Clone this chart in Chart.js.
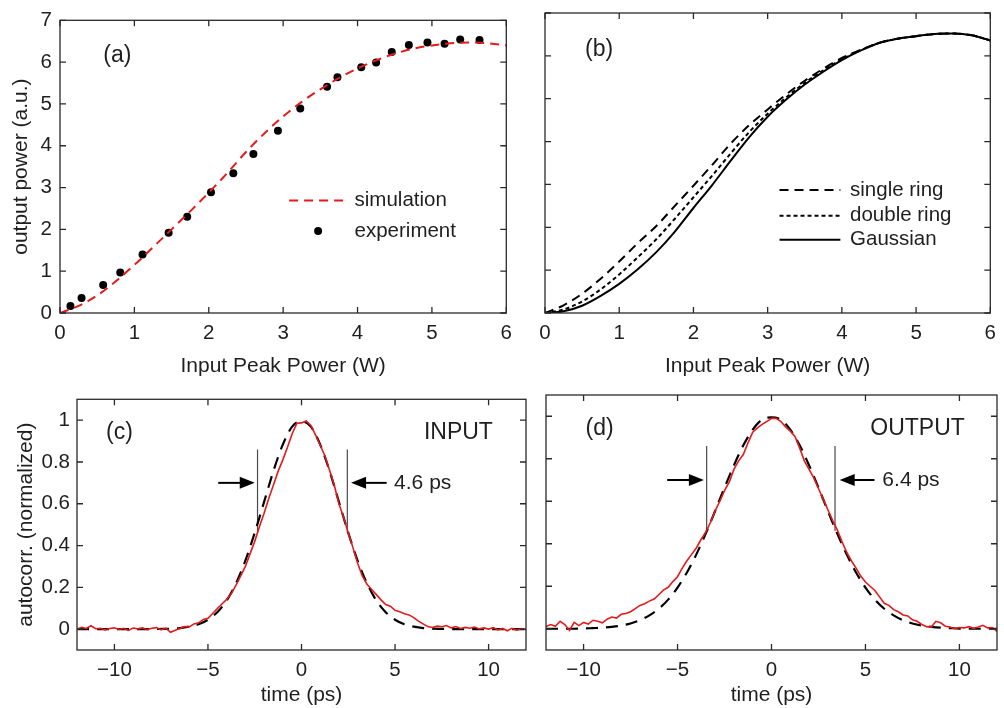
<!DOCTYPE html>
<html>
<head>
<meta charset="utf-8">
<script src="https://cdn.jsdelivr.net/npm/chart.js@4.4.1/dist/chart.umd.min.js"></script>
<style>
  html, body { margin: 0; padding: 0; background: #fff; }
  #wrap { position: relative; width: 1004px; height: 708px; overflow: hidden; }
  canvas { position: absolute; }
</style>
</head>
<body>
<div id="wrap">
  <canvas id="panel-a" width="520" height="380" style="left:0px;top:0px"></canvas>
  <canvas id="panel-b" width="484" height="380" style="left:520px;top:0px"></canvas>
  <canvas id="panel-c" width="540" height="328" style="left:0px;top:380px"></canvas>
  <canvas id="panel-d" width="464" height="328" style="left:540px;top:380px"></canvas>
</div>
<script>
// ---- data ----

// (a) output vs input peak power
var simX = [0, 0.25, 0.5, 0.75, 1, 1.25, 1.5, 1.75, 2, 2.25, 2.5, 2.75, 3,
  3.25, 3.5, 3.75, 4, 4.25, 4.5, 4.75, 5, 5.25, 5.5, 5.75, 6];
var simY = [0, 0.17, 0.42, 0.76, 1.15, 1.57, 2.0, 2.43, 2.88, 3.35, 3.85, 4.30, 4.70,
  5.05, 5.35, 5.62, 5.85, 6.04, 6.20, 6.32, 6.40, 6.45, 6.47, 6.45, 6.40];
var expX = [0.14, 0.29, 0.58, 0.81, 1.11, 1.46, 1.71, 2.03, 2.33, 2.60, 2.93,
  3.23, 3.59, 3.73, 4.05, 4.25, 4.46, 4.69, 4.94, 5.17, 5.38, 5.64];
var expY = [0.17, 0.36, 0.67, 0.97, 1.40, 1.92, 2.30, 2.89, 3.34, 3.80, 4.36,
  4.89, 5.41, 5.64, 5.88, 5.99, 6.24, 6.41, 6.47, 6.44, 6.54, 6.53];

// (b) beam shapes
var beamX = simX;
var singleRing = [0, 0.18, 0.45, 0.80, 1.20, 1.63, 2.03, 2.50, 2.97, 3.45, 3.95, 4.38, 4.75,
  5.10, 5.42, 5.70, 5.95, 6.14, 6.30, 6.40, 6.46, 6.51, 6.52, 6.48, 6.36];
var doubleRing = [0, 0.08, 0.27, 0.55, 0.90, 1.30, 1.72, 2.20, 2.70, 3.20, 3.72, 4.22, 4.65,
  5.03, 5.37, 5.66, 5.92, 6.13, 6.30, 6.40, 6.46, 6.51, 6.52, 6.48, 6.36];
var gaussianBeam = [0, 0.04, 0.17, 0.40, 0.68, 1.02, 1.42, 1.90, 2.45, 2.98, 3.55, 4.10, 4.58,
  4.98, 5.33, 5.63, 5.90, 6.12, 6.30, 6.40, 6.46, 6.51, 6.52, 6.48, 6.36];

// (c), (d) autocorrelation traces
var timeX = [-12, -11.75, -11.5, -11.25, -11, -10.75, -10.5, -10.25, -10, -9.75, -9.5, -9.25,
  -9, -8.75, -8.5, -8.25, -8, -7.75, -7.5, -7.25, -7, -6.75, -6.5, -6.25,
  -6, -5.75, -5.5, -5.25, -5, -4.75, -4.5, -4.25, -4, -3.75, -3.5, -3.25,
  -3, -2.75, -2.5, -2.25, -2, -1.75, -1.5, -1.25, -1, -0.75, -0.5, -0.25,
  0, 0.25, 0.5, 0.75, 1, 1.25, 1.5, 1.75, 2, 2.25, 2.5, 2.75,
  3, 3.25, 3.5, 3.75, 4, 4.25, 4.5, 4.75, 5, 5.25, 5.5, 5.75,
  6, 6.25, 6.5, 6.75, 7, 7.25, 7.5, 7.75, 8, 8.25, 8.5, 8.75,
  9, 9.25, 9.5, 9.75, 10, 10.25, 10.5, 10.75, 11, 11.25, 11.5, 11.75, 12];
var inputTrace = [0.000, 0.008, 0.003, 0.016, 0.002, 0.004, -0.004, 0.003, 0.006, -0.002, 0.004, -0.006,
  0.005, 0.001, 0.006, -0.003, 0.004, 0.007, -0.004, 0.005, -0.015, -0.005, 0.003, 0.012,
  0.010, 0.025, 0.030, 0.046, 0.052, 0.075, 0.098, 0.120, 0.142, 0.170, 0.210, 0.255,
  0.300, 0.360, 0.420, 0.490, 0.555, 0.625, 0.690, 0.755, 0.810, 0.870, 0.935, 0.985,
  0.987, 0.996, 0.975, 0.930, 0.880, 0.830, 0.760, 0.690, 0.600, 0.535, 0.460, 0.390,
  0.315, 0.255, 0.215, 0.190, 0.165, 0.140, 0.118, 0.110, 0.090, 0.083, 0.074, 0.068,
  0.055, 0.038, 0.025, 0.012, 0.008, 0.014, 0.011, 0.017, 0.006, 0.012, 0.003, 0.008,
  0.004, 0.010, 0.001, 0.006, 0.000, 0.007, -0.004, 0.003, -0.008, 0.004, -0.005, 0.002, -0.003];
var outputTrace = [0.010, 0.020, 0.012, 0.035, 0.020, -0.008, 0.030, 0.015, 0.030, 0.022, 0.040, 0.035,
  0.028, 0.045, 0.055, 0.050, 0.068, 0.072, 0.080, 0.095, 0.110, 0.118, 0.130, 0.140,
  0.160, 0.182, 0.195, 0.222, 0.245, 0.285, 0.320, 0.350, 0.380, 0.420, 0.455, 0.500,
  0.555, 0.600, 0.650, 0.690, 0.750, 0.790, 0.820, 0.875, 0.925, 0.945, 0.962, 0.975,
  0.990, 0.990, 0.975, 0.950, 0.930, 0.905, 0.850, 0.790, 0.750, 0.710, 0.660, 0.610,
  0.560, 0.510, 0.465, 0.410, 0.360, 0.320, 0.285, 0.248, 0.220, 0.200, 0.180, 0.150,
  0.120, 0.110, 0.090, 0.080, 0.065, 0.060, 0.042, 0.035, 0.020, 0.010, 0.008, 0.035,
  0.028, 0.012, 0.008, 0.000, 0.006, 0.004, 0.010, 0.002, 0.008, 0.016, 0.004, 0.006, -0.012];

var fitX = [-12, -11.5, -11, -10.5, -10, -9.5, -9, -8.5, -8, -7.5, -7, -6.5,
  -6, -5.5, -5, -4.5, -4, -3.5, -3, -2.5, -2, -1.5, -1, -0.5,
  0, 0.5, 1, 1.5, 2, 2.5, 3, 3.5, 4, 4.5, 5, 5.5,
  6, 6.5, 7, 7.5, 8, 8.5, 9, 9.5, 10, 10.5, 11, 11.5, 12];
var inputFit = [0, 0, 0, 0, 0, 0, 0, 0, 0, 0.001, 0.002, 0.005,
  0.012, 0.023, 0.045, 0.081, 0.137, 0.219, 0.328, 0.461, 0.609, 0.757, 0.883, 0.969,
  0.995, 0.969, 0.883, 0.757, 0.609, 0.461, 0.328, 0.219, 0.137, 0.081, 0.045, 0.023,
  0.012, 0.005, 0.002, 0.001, 0, 0, 0, 0, 0, 0, 0, 0, 0];
var outputFit = [0, 0, 0, 0, 0.001, 0.003, 0.005, 0.009, 0.015, 0.025, 0.040, 0.063,
  0.094, 0.137, 0.194, 0.265, 0.350, 0.448, 0.554, 0.664, 0.769, 0.863, 0.937, 0.984,
  0.995, 0.984, 0.937, 0.863, 0.769, 0.664, 0.554, 0.448, 0.350, 0.265, 0.194, 0.137,
  0.094, 0.063, 0.040, 0.025, 0.015, 0.009, 0.005, 0.003, 0.001, 0, 0, 0, 0];

// half-maximum markers (ps)
var inputMarks = [-2.35, 2.45];
var outputMarks = [-3.45, 3.38];

// tick values
var powerTicks = [0, 1, 2, 3, 4, 5, 6];
var outTicks = [0, 1, 2, 3, 4, 5, 6, 7];
var timeTicks = [-10, -5, 0, 5, 10];
var corrTicks = [0, 0.2, 0.4, 0.6, 0.8, 1];

// ---- drawing ----
var INK = "#1f1f1f";
var RED = "#e41a1c";
var FONT = '"Liberation Sans", Arial, Helvetica, sans-serif';

function pairs(xs, ys) {
  return xs.map(function (x, i) { return { x: x, y: ys[i] }; });
}

function tickText(v) {
  return v < 0 ? "\u2212" + Math.abs(v) : String(v);
}

// box round the plot with inward ticks on all four sides
var framePlugin = {
  id: "frame",
  afterDraw: function (chart) {
    var a = chart.chartArea, ctx = chart.ctx;
    var xs = chart.scales.x, ys = chart.scales.y;
    ctx.save();
    ctx.strokeStyle = "#2a2a2a";
    ctx.lineWidth = 1.3;
    ctx.strokeRect(a.left, a.top, a.right - a.left, a.bottom - a.top);
    ctx.beginPath();
    xs.ticks.forEach(function (t) {
      var p = xs.getPixelForValue(t.value);
      ctx.moveTo(p, a.bottom); ctx.lineTo(p, a.bottom - 6);
      ctx.moveTo(p, a.top); ctx.lineTo(p, a.top + 6);
    });
    ys.ticks.forEach(function (t) {
      var p = ys.getPixelForValue(t.value);
      ctx.moveTo(a.left, p); ctx.lineTo(a.left + 6, p);
      ctx.moveTo(a.right, p); ctx.lineTo(a.right - 6, p);
    });
    ctx.stroke();
    ctx.restore();
  }
};

// panel letters, in-plot legends, arrows
var decorPlugin = {
  id: "decor",
  afterDatasetsDraw: function (chart, args, opts) {
    var xs = chart.scales.x, ys = chart.scales.y, ctx = chart.ctx;
    function px(v) { return xs.getPixelForValue(v); }
    function py(v) { return ys.getPixelForValue(v); }
    ctx.save();
    (opts.keys || []).forEach(function (k) {
      var y = py(k.y);
      if (k.dot) {
        ctx.fillStyle = k.color;
        ctx.beginPath();
        ctx.arc(px(k.dot), y, 4, 0, Math.PI * 2);
        ctx.fill();
      } else {
        ctx.strokeStyle = k.color;
        ctx.lineWidth = k.width;
        ctx.setLineDash(k.dash);
        ctx.beginPath();
        ctx.moveTo(px(k.x0), y);
        ctx.lineTo(px(k.x1), y);
        ctx.stroke();
        ctx.setLineDash([]);
      }
      ctx.fillStyle = INK;
      ctx.font = "20.5px " + FONT;
      ctx.textAlign = "left";
      ctx.textBaseline = "middle";
      ctx.fillText(k.text, px(k.tx), y);
    });
    (opts.arrows || []).forEach(function (ar) {
      var x0 = px(ar.from), x1 = px(ar.to), y = py(ar.y);
      var dir = x1 > x0 ? 1 : -1;
      ctx.strokeStyle = "#000";
      ctx.fillStyle = "#000";
      ctx.lineWidth = 2;
      ctx.beginPath();
      ctx.moveTo(x0, y);
      ctx.lineTo(x1 - dir * 12, y);
      ctx.stroke();
      ctx.beginPath();
      ctx.moveTo(x1, y);
      ctx.lineTo(x1 - dir * 15, y - 6);
      ctx.lineTo(x1 - dir * 15, y + 6);
      ctx.closePath();
      ctx.fill();
    });
    (opts.texts || []).forEach(function (t) {
      ctx.fillStyle = INK;
      ctx.font = t.size + "px " + FONT;
      ctx.textAlign = t.align || "left";
      ctx.textBaseline = "middle";
      ctx.fillText(t.text, px(t.x), py(t.y));
    });
    ctx.restore();
  }
};

function axis(min, max, tickList, o) {
  var horizontal = o.horizontal;
  return {
    type: "linear",
    min: min,
    max: max,
    grid: { display: false, drawTicks: false },
    border: { display: false },
    afterBuildTicks: function (scale) {
      scale.ticks = tickList.map(function (v) { return { value: v }; });
    },
    afterFit: function (scale) {
      if (horizontal) scale.height = o.size; else scale.width = o.size;
    },
    ticks: {
      display: o.labels !== false,
      color: INK,
      padding: o.pad,
      maxRotation: 0,
      autoSkip: false,
      font: { family: FONT, size: 20.5 },
      callback: tickText
    },
    title: {
      display: !!o.title,
      text: o.title || "",
      color: INK,
      font: { family: FONT, size: 21 },
      padding: o.titlePad || 0
    }
  };
}

function makeChart(id, datasets, xScale, yScale, padding, decor) {
  return new Chart(document.getElementById(id), {
    type: "scatter",
    data: { datasets: datasets },
    options: {
      responsive: false,
      animation: false,
      events: [],
      layout: { autoPadding: false, padding: padding },
      plugins: { legend: { display: false }, tooltip: { enabled: false }, decor: decor },
      scales: { x: xScale, y: yScale }
    },
    plugins: [framePlugin, decorPlugin]
  });
}

function smoothLine(xs, ys, color, width, dash) {
  return {
    data: pairs(xs, ys),
    showLine: true,
    borderColor: color,
    borderWidth: width,
    borderDash: dash,
    pointRadius: 0,
    cubicInterpolationMode: "monotone"
  };
}

function traceLine(xs, ys) {
  return {
    data: pairs(xs, ys),
    showLine: true,
    borderColor: RED,
    borderWidth: 1.6,
    pointRadius: 0,
    tension: 0
  };
}

function markLine(x) {
  return {
    data: [{ x: x, y: 0.86 }, { x: x, y: 0.46 }],
    showLine: true,
    borderColor: "#4a4a4a",
    borderWidth: 1.2,
    pointRadius: 0
  };
}

// (a)
makeChart("panel-a", [
  smoothLine(simX, simY, RED, 2, [9, 6]),
  {
    data: pairs(expX, expY),
    pointRadius: 4,
    pointBackgroundColor: "#000",
    pointBorderWidth: 0
  }
],
  axis(0, 6, powerTicks, { horizontal: true, size: 67, pad: 8, title: "Input Peak Power (W)", titlePad: 1 }),
  axis(0, 7, outTicks, { size: 60, pad: 8, title: "output power (a.u.)", titlePad: 9 }),
  { left: 0, right: 8, top: 13, bottom: 0 },
  {
    texts: [{ text: "(a)", x: 0.77, y: 6.15, size: 23, align: "center" }],
    keys: [
      { text: "simulation", x0: 3.08, x1: 3.85, tx: 3.96, y: 2.69, color: RED, width: 2, dash: [9, 6] },
      { text: "experiment", dot: 3.47, tx: 3.96, y: 1.96, color: "#000" }
    ]
  });

// (b)
makeChart("panel-b", [
  smoothLine(beamX, singleRing, "#000", 2, [9, 6]),
  smoothLine(beamX, doubleRing, "#000", 2, [4, 3]),
  smoothLine(beamX, gaussianBeam, "#000", 2, [])
],
  axis(0, 6, powerTicks, { horizontal: true, size: 67, pad: 8, title: "Input Peak Power (W)", titlePad: 1 }),
  axis(0, 7, outTicks, { size: 25, pad: 8, labels: false }),
  { left: 0, right: 7, top: 13, bottom: 0 },
  {
    texts: [{ text: "(b)", x: 0.73, y: 6.15, size: 23, align: "center" }],
    keys: [
      { text: "single ring", x0: 3.16, x1: 3.98, tx: 4.11, y: 2.87, color: "#000", width: 2, dash: [9, 6] },
      { text: "double ring", x0: 3.16, x1: 3.98, tx: 4.11, y: 2.27, color: "#000", width: 2, dash: [4, 3] },
      { text: "Gaussian", x0: 3.16, x1: 3.98, tx: 4.11, y: 1.71, color: "#000", width: 2, dash: [] }
    ]
  });

// (c)
makeChart("panel-c", [
  traceLine(timeX, inputTrace),
  smoothLine(fitX, inputFit, "#000", 2.2, [12, 8]),
  markLine(inputMarks[0]),
  markLine(inputMarks[1])
],
  axis(-12, 12, timeTicks, { horizontal: true, size: 58, pad: 8, title: "time (ps)", titlePad: 0 }),
  axis(-0.1, 1.1, corrTicks, { size: 77, pad: 7, title: "autocorr. (normalized)", titlePad: 14 }),
  { left: 0, right: 14, top: 15, bottom: 0 },
  {
    texts: [
      { text: "(c)", x: -9.73, y: 0.94, size: 23, align: "center" },
      { text: "INPUT", x: 10.23, y: 0.94, size: 23, align: "right" },
      { text: "4.6 ps", x: 4.95, y: 0.70, size: 21, align: "left" }
    ],
    arrows: [
      { from: -4.45, to: -2.5, y: 0.70 },
      { from: 4.55, to: 2.65, y: 0.70 }
    ]
  });

// (d)
makeChart("panel-d", [
  traceLine(timeX, outputTrace),
  smoothLine(fitX, outputFit, "#000", 2.2, [12, 8]),
  markLine(outputMarks[0]),
  markLine(outputMarks[1])
],
  axis(-12, 12, timeTicks, { horizontal: true, size: 58, pad: 8, title: "time (ps)", titlePad: 0 }),
  axis(-0.1, 1.1, corrTicks, { size: 6, pad: 7, labels: false }),
  { left: 0, right: 7, top: 15, bottom: 0 },
  {
    texts: [
      { text: "(d)", x: -9.15, y: 0.94, size: 23, align: "center" },
      { text: "OUTPUT", x: 10.29, y: 0.94, size: 23, align: "right" },
      { text: "6.4 ps", x: 5.9, y: 0.70, size: 21, align: "left" }
    ],
    arrows: [
      { from: -5.55, to: -3.6, y: 0.70 },
      { from: 5.48, to: 3.63, y: 0.70 }
    ]
  });
</script>
</body>
</html>
